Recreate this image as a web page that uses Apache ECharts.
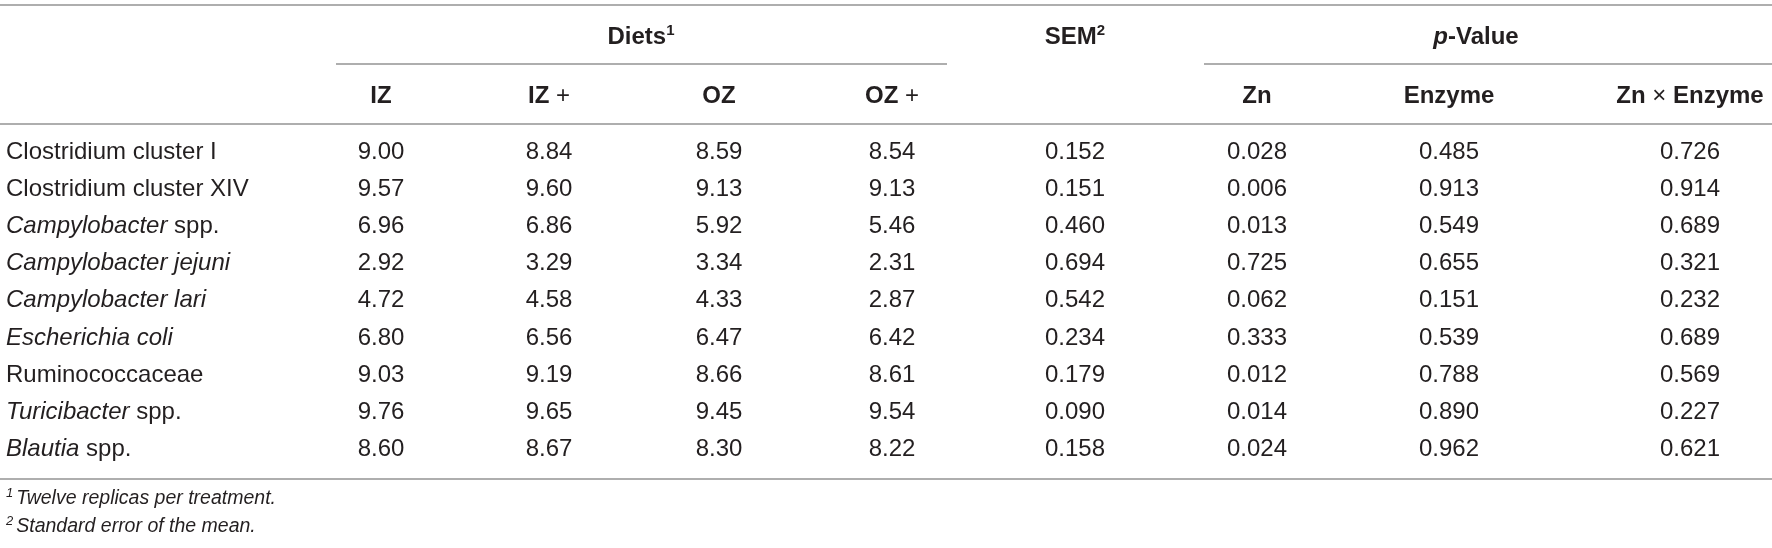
<!DOCTYPE html>
<html>
<head>
<meta charset="UTF-8">
<title>Table</title>
<script src="https://cdn.jsdelivr.net/npm/echarts@6/dist/echarts.min.js"></script>
<style>
  html, body { margin: 0; padding: 0; background: #fff; }
  #main { width: 1772px; height: 548px; }
</style>
</head>
<body>
<div id="main"></div>
<script type="text/javascript">
// table data
var rowLabels = [
  'Clostridium cluster I',
  'Clostridium cluster XIV',
  '{i|Campylobacter} spp.',
  '{i|Campylobacter jejuni}',
  '{i|Campylobacter lari}',
  '{i|Escherichia coli}',
  'Ruminococcaceae',
  '{i|Turicibacter} spp.',
  '{i|Blautia} spp.'
];
var IZ      = [9.00, 9.57, 6.96, 2.92, 4.72, 6.80, 9.03, 9.76, 8.60];
var IZplus  = [8.84, 9.60, 6.86, 3.29, 4.58, 6.56, 9.19, 9.65, 8.67];
var OZ      = [8.59, 9.13, 5.92, 3.34, 4.33, 6.47, 8.66, 9.45, 8.30];
var OZplus  = [8.54, 9.13, 5.46, 2.31, 2.87, 6.42, 8.61, 9.54, 8.22];
var SEM     = [0.152, 0.151, 0.460, 0.694, 0.542, 0.234, 0.179, 0.090, 0.158];
var pZn     = [0.028, 0.006, 0.013, 0.725, 0.062, 0.333, 0.012, 0.014, 0.024];
var pEnzyme = [0.485, 0.913, 0.549, 0.655, 0.151, 0.539, 0.788, 0.890, 0.962];
var pInter  = [0.726, 0.914, 0.689, 0.321, 0.232, 0.689, 0.569, 0.227, 0.621];

var groupHeaders = ['Diets{sup|1}', 'SEM{sup|2}', '{bi|p}-Value'];
var colHeaders = ['IZ', 'IZ {bn|+}', 'OZ', 'OZ {bn|+}', 'Zn', 'Enzyme', 'Zn {bn|×} Enzyme'];
var footnotes = ['{fs|1}Twelve replicas per treatment.', '{fs|2}Standard error of the mean.'];

// layout (pixel units of the hidden axes)
var W = 1772, H = 548;
var labelX = 6;
var colX = [381, 549, 719, 892, 1075, 1257, 1449, 1690]; // IZ, IZ+, OZ, OZ+, SEM, Zn, Enzyme, ZnxE
var groupX = [641, 1075, 1476];
var yGroup = 37, yHead = 96, rowTop = 152, rowStep = 37.2;
var yFoot = [499, 527];
var rules = [
  [0, W, 5], [336, 947, 64], [1204, W, 64], [0, W, 124], [0, W, 479]
];

var textColor = '#231f20';
var fontFam = '"Liberation Sans", Arial, sans-serif';
var rich = {
  i:  { fontStyle: 'italic', fontSize: 24, fontFamily: fontFam, color: textColor, lineHeight: 28 },
  bn: { fontWeight: 'normal', fontSize: 24, fontFamily: fontFam, color: textColor, lineHeight: 28 },
  bi: { fontWeight: 'bold', fontStyle: 'italic', fontSize: 24, fontFamily: fontFam, color: textColor, lineHeight: 28 },
  sup: { fontWeight: 'bold', fontSize: 15, fontFamily: fontFam, color: textColor, lineHeight: 18, verticalAlign: 'top' },
  fs: { fontStyle: 'italic', fontSize: 13, fontFamily: fontFam, color: textColor, lineHeight: 16, verticalAlign: 'top', padding: [0, 3, 0, 0] }
};

var cells = [];
function cell(x, y, text, align, kind) {
  cells.push({ x: x, y: y, text: text, align: align, kind: kind });
}
groupHeaders.forEach(function (t, k) { cell(groupX[k], yGroup, t, 'center', 'bold'); });
colHeaders.forEach(function (t, k) {
  var cx = k < 4 ? colX[k] : colX[k + 1];
  cell(cx, yHead, t, 'center', 'bold');
});
var valueCols = [[IZ, 2], [IZplus, 2], [OZ, 2], [OZplus, 2], [SEM, 3], [pZn, 3], [pEnzyme, 3], [pInter, 3]];
rowLabels.forEach(function (name, r) {
  var y = rowTop + r * rowStep;
  cell(labelX, y, name, 'left', 'normal');
  valueCols.forEach(function (vc, k) {
    cell(colX[k], y, vc[0][r].toFixed(vc[1]), 'center', 'normal');
  });
});
footnotes.forEach(function (t, k) { cell(labelX, yFoot[k], t, 'left', 'foot'); });

var kinds = {
  normal: { fontSize: 24, fontWeight: 'normal', fontStyle: 'normal', lineHeight: 28 },
  bold:   { fontSize: 24, fontWeight: 'bold', fontStyle: 'normal', lineHeight: 28 },
  foot:   { fontSize: 19.5, fontWeight: 'normal', fontStyle: 'italic', lineHeight: 24 }
};

var myChart = echarts.init(document.getElementById('main'));
var option = {
  animation: false,
  grid: { left: 0, right: 0, top: 0, bottom: 0 },
  xAxis: { type: 'value', min: 0, max: W, show: false },
  yAxis: { type: 'value', min: 0, max: H, inverse: true, show: false },
  series: [
    {
      type: 'lines',
      coordinateSystem: 'cartesian2d',
      silent: true,
      lineStyle: { color: '#aeaeae', width: 2, opacity: 1 },
      data: rules.map(function (r) { return { coords: [[r[0], r[2]], [r[1], r[2]]] }; })
    },
    {
      type: 'custom',
      silent: true,
      data: cells.map(function (c) { return [c.x, c.y]; }),
      renderItem: function (params, api) {
        var c = cells[params.dataIndex];
        var p = api.coord([api.value(0), api.value(1)]);
        var k = kinds[c.kind];
        return {
          type: 'text',
          x: p[0],
          y: p[1],
          style: {
            text: c.text,
            align: c.align,
            verticalAlign: 'middle',
            fontFamily: fontFam,
            fontSize: k.fontSize,
            fontWeight: k.fontWeight,
            fontStyle: k.fontStyle,
            lineHeight: k.lineHeight,
            fill: textColor,
            rich: rich
          }
        };
      }
    }
  ]
};
myChart.setOption(option);
</script>
</body>
</html>
